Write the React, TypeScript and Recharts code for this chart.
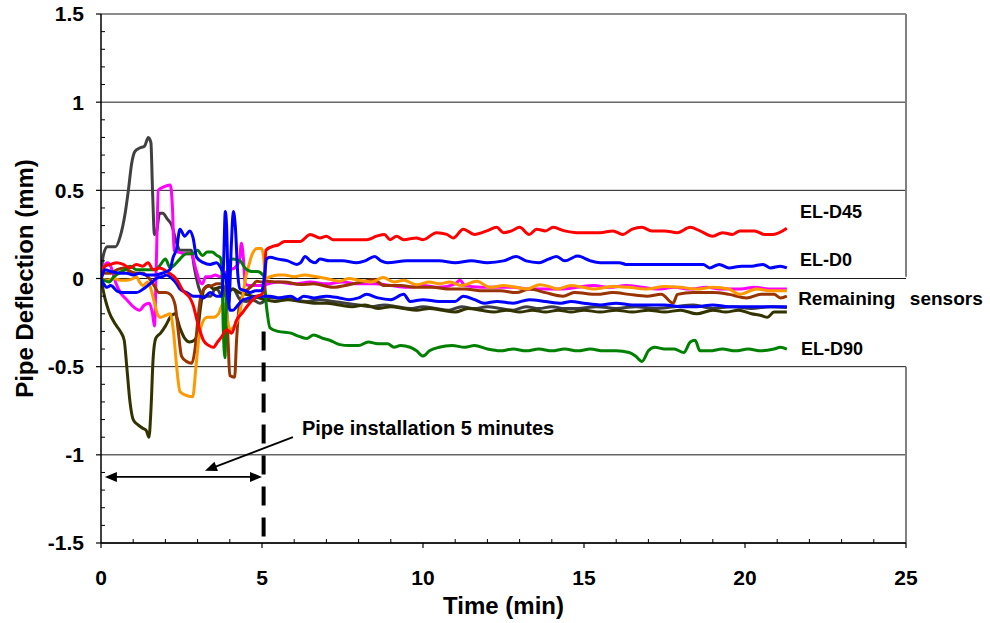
import React from 'react';
import { LineChart, Line, XAxis, YAxis, CartesianGrid, ReferenceLine, ReferenceDot } from 'recharts';

type Pt = [number, number];

// Tick values (every value gets a tick mark; the major ones also get a label)
const xTicks = [0, 1, 2, 3, 4, 5, 6, 7, 8, 9, 10, 11, 12, 13, 14, 15, 16, 17, 18, 19, 20, 21, 22, 23, 24, 25];
const xMajorStep = 5;
const yTicks = [-1.5, -1.4, -1.3, -1.2, -1.1, -1, -0.9, -0.8, -0.7, -0.6, -0.5, -0.4, -0.3, -0.2, -0.1, 0, 0.1, 0.2, 0.3, 0.4, 0.5, 0.6, 0.7, 0.8, 0.9, 1, 1.1, 1.2, 1.3, 1.4, 1.5];
const yMajorTicks = [-1.5, -1, -0.5, 0, 0.5, 1, 1.5];

// Series: [time (min), deflection (mm)]
const sensorGray: Pt[] = [
  [0, 0], [0.07, 0.13], [0.2, 0.18], [0.3, 0.18], [0.45, 0.18], [0.6, 0.24], [0.75, 0.37], [0.85, 0.5], [0.95, 0.65],
  [1.05, 0.72], [1.2, 0.74], [1.35, 0.75], [1.47, 0.8], [1.55, 0.77], [1.6, 0.5], [1.66, 0.25], [1.72, 0.26],
  [1.82, 0.37], [1.92, 0.37], [2.05, 0.34], [2.2, 0.3], [2.35, 0.2], [2.45, 0.16], [2.6, 0.16], [2.8, 0.16],
  [2.9, 0.06], [3.05, -0.06], [3.2, -0.1], [3.4, -0.1], [3.55, -0.06], [3.65, -0.07], [3.75, -0.1], [3.95, -0.08],
  [4.1, -0.06], [4.32, -0.12], [4.5, -0.13], [4.7, -0.12], [4.94, -0.14], [5.25, -0.11], [5.6, -0.11], [6.0, -0.12],
  [6.4, -0.13], [6.8, -0.12], [7.2, -0.13], [7.6, -0.14], [8.0, -0.15], [8.4, -0.16], [8.8, -0.15], [9.2, -0.16],
  [9.6, -0.17], [10.0, -0.16], [10.4, -0.17], [10.8, -0.18], [11.2, -0.16], [11.6, -0.17], [12.0, -0.16],
  [12.4, -0.17], [12.8, -0.18], [13.2, -0.16], [13.6, -0.17], [14.0, -0.16], [14.4, -0.17], [14.8, -0.17],
  [15.4, -0.16], [16.0, -0.17], [16.6, -0.16], [17.2, -0.17], [17.8, -0.16], [18.4, -0.15], [19.0, -0.17],
  [19.6, -0.16], [20.2, -0.17], [20.8, -0.16], [21.3, -0.165],
];

const sensorOlive: Pt[] = [
  [0, 0], [0.05, -0.05], [0.12, -0.11], [0.25, -0.19], [0.45, -0.26], [0.6, -0.3], [0.72, -0.35], [0.8, -0.5],
  [0.9, -0.7], [1.0, -0.8], [1.15, -0.83], [1.3, -0.85], [1.4, -0.86], [1.49, -0.9], [1.55, -0.75], [1.62, -0.45],
  [1.7, -0.34], [1.85, -0.31], [2.0, -0.27], [2.15, -0.22], [2.3, -0.2], [2.45, -0.28], [2.6, -0.34], [2.75, -0.36],
  [2.9, -0.35], [3.0, -0.3], [3.1, -0.15], [3.2, -0.06], [3.35, -0.04], [3.5, -0.06], [3.7, -0.05], [3.9, -0.07],
  [4.1, -0.06], [4.3, -0.08], [4.5, -0.09], [4.7, -0.1], [4.9, -0.11], [5.1, -0.12], [5.4, -0.13], [5.8, -0.12],
  [6.2, -0.13], [6.6, -0.14], [7.0, -0.14], [7.4, -0.15], [7.8, -0.16], [8.2, -0.15], [8.6, -0.17], [9.0, -0.16],
  [9.4, -0.17], [9.8, -0.18], [10.2, -0.17], [10.6, -0.18], [11.0, -0.19], [11.4, -0.17], [11.8, -0.18],
  [12.2, -0.19], [12.6, -0.18], [13.0, -0.19], [13.4, -0.18], [13.8, -0.19], [14.2, -0.18], [14.6, -0.19],
  [15.0, -0.18], [15.5, -0.19], [16.0, -0.18], [16.5, -0.19], [17.0, -0.18], [17.5, -0.19], [18.0, -0.18],
  [18.5, -0.2], [19.0, -0.18], [19.4, -0.19], [19.8, -0.18], [20.2, -0.2], [20.5, -0.21], [20.7, -0.22],
  [20.9, -0.19], [21.3, -0.19],
];

const sensorMagenta: Pt[] = [
  [0, 0], [0.08, 0.06], [0.2, 0.09], [0.3, 0.07], [0.45, -0.02], [0.6, -0.08], [0.8, -0.12], [1.0, -0.16],
  [1.2, -0.18], [1.35, -0.15], [1.5, -0.14], [1.6, -0.2], [1.66, -0.27], [1.72, 0.1], [1.78, 0.5], [1.95, 0.52],
  [2.15, 0.53], [2.22, 0.4], [2.27, 0.16], [2.4, 0.15], [2.6, 0.14], [2.8, 0.14], [2.95, 0.05], [3.05, -0.01],
  [3.15, -0.03], [3.25, 0.01], [3.4, 0.01], [3.55, 0.02], [3.7, 0.01], [3.85, 0.03], [4.0, 0.05], [4.15, 0.06],
  [4.3, 0.1], [4.36, 0.2], [4.42, 0.12], [4.48, -0.03], [4.6, -0.04], [4.8, -0.04], [5.0, -0.04], [5.2, -0.03],
  [5.5, -0.02], [6.0, -0.03], [6.5, -0.02], [7.0, -0.03], [7.5, -0.02], [8.0, -0.03], [8.5, -0.03], [9.0, -0.04],
  [9.5, -0.05], [10.0, -0.04], [10.5, -0.05], [11.0, -0.03], [11.15, -0.01], [11.3, -0.04], [11.8, -0.05],
  [12.3, -0.05], [12.8, -0.05], [13.3, -0.06], [13.8, -0.06], [14.3, -0.06], [14.8, -0.05], [15.3, -0.04],
  [15.8, -0.05], [16.3, -0.04], [16.8, -0.05], [17.3, -0.06], [17.8, -0.05], [18.3, -0.06], [18.8, -0.05],
  [19.3, -0.06], [19.8, -0.06], [20.3, -0.05], [20.8, -0.06], [21.3, -0.06],
];

const sensorBrown: Pt[] = [
  [0, 0], [0.1, 0.03], [0.3, 0.03], [0.5, 0.05], [0.7, 0.06], [0.9, 0.04], [1.1, 0.03], [1.3, 0.03], [1.5, 0.0],
  [1.65, -0.04], [1.8, -0.08], [2.0, -0.08], [2.15, -0.09], [2.3, -0.15], [2.4, -0.3], [2.5, -0.44], [2.65, -0.47],
  [2.82, -0.48], [2.92, -0.4], [3.0, -0.25], [3.1, -0.1], [3.25, -0.05], [3.45, -0.04], [3.6, -0.03], [3.75, -0.03],
  [3.88, -0.1], [3.95, -0.37], [4.0, -0.55], [4.15, -0.56], [4.21, -0.35], [4.3, -0.15], [4.45, -0.08],
  [4.57, -0.06], [4.73, -0.035], [4.84, -0.015], [5.0, -0.02], [5.14, -0.015], [5.4, -0.02], [5.7, -0.02],
  [6.18, -0.034], [6.6, -0.03], [7.2, -0.05], [7.73, -0.034], [8.1, -0.02], [8.45, -0.005], [8.8, -0.04],
  [9.3, -0.04], [9.8, -0.05], [10.3, -0.05], [10.84, -0.06], [11.3, -0.06], [11.87, -0.07], [12.4, -0.07],
  [12.9, -0.08], [13.3, -0.06], [13.8, -0.08], [14.35, -0.1], [14.7, -0.08], [15.4, -0.09], [15.9, -0.08],
  [16.4, -0.09], [16.95, -0.1], [17.4, -0.09], [17.77, -0.14], [17.9, -0.09], [18.4, -0.08], [19.0, -0.08],
  [19.5, -0.09], [20.05, -0.11], [20.5, -0.09], [20.9, -0.09], [21.1, -0.11], [21.3, -0.1],
];

const sensorOrange: Pt[] = [
  [0, 0], [0.2, -0.01], [0.4, 0.0], [0.6, -0.01], [0.8, -0.01], [1.0, 0.0], [1.1, 0.01], [1.2, -0.02],
  [1.3, -0.04], [1.45, -0.02], [1.55, -0.06], [1.65, -0.13], [1.75, -0.2], [1.85, -0.22], [2.0, -0.21],
  [2.15, -0.2], [2.25, -0.3], [2.35, -0.5], [2.45, -0.64], [2.6, -0.66], [2.85, -0.67], [2.95, -0.5],
  [3.05, -0.32], [3.15, -0.25], [3.3, -0.22], [3.5, -0.22], [3.65, -0.2], [3.8, -0.14], [3.9, -0.2], [4.0, -0.29],
  [4.15, -0.27], [4.3, -0.2], [4.4, -0.1], [4.5, 0.01], [4.6, 0.08], [4.7, 0.14], [4.85, 0.17], [4.99, 0.17],
  [5.05, 0.12], [5.12, 0.0], [5.25, 0.01], [5.5, 0.02], [5.7, 0.02], [6.0, 0.01], [6.3, 0.02], [6.7, 0.01],
  [7.0, 0.0], [7.4, -0.015], [7.7, 0.0], [8.0, -0.01], [8.4, -0.02], [8.76, 0.005], [9.1, -0.02], [9.4, -0.01],
  [9.8, -0.035], [10.2, -0.02], [10.5, -0.03], [10.84, -0.02], [11.2, -0.04], [11.67, -0.015], [12.08, -0.05],
  [12.5, -0.04], [12.9, -0.05], [13.22, -0.06], [13.63, -0.035], [14.0, -0.05], [14.15, -0.06], [14.6, -0.04],
  [14.97, -0.05], [15.3, -0.06], [15.9, -0.045], [16.4, -0.05], [16.95, -0.06], [17.5, -0.045], [18.0, -0.05],
  [18.5, -0.06], [19.0, -0.05], [19.5, -0.06], [19.84, -0.09], [20.36, -0.06], [20.8, -0.07], [21.3, -0.07],
];

const sensorGreenD90: Pt[] = [
  [0, 0], [0.1, -0.01], [0.25, -0.02], [0.4, 0.01], [0.55, 0.03], [0.75, 0.05], [0.9, 0.07], [1.1, 0.05],
  [1.3, 0.05], [1.5, 0.05], [1.7, 0.05], [1.85, 0.08], [2.0, 0.11], [2.15, 0.06], [2.3, 0.08], [2.45, 0.11],
  [2.65, 0.14], [2.85, 0.14], [3.0, 0.16], [3.15, 0.13], [3.3, 0.15], [3.45, 0.15], [3.6, 0.13], [3.7, 0.12],
  [3.75, 0.07], [3.8, -0.3], [3.85, -0.45], [3.9, -0.05], [4.0, 0.1], [4.1, 0.11], [4.32, 0.1], [4.47, 0.06],
  [4.68, 0.04], [4.85, 0.04], [5.05, 0.015], [5.14, -0.16], [5.25, -0.28], [5.5, -0.3], [5.9, -0.31],
  [6.18, -0.33], [6.4, -0.34], [6.6, -0.32], [6.9, -0.34], [7.1, -0.35], [7.42, -0.375], [7.7, -0.38],
  [8.0, -0.38], [8.3, -0.36], [8.6, -0.37], [8.9, -0.37], [9.1, -0.39], [9.3, -0.38], [9.6, -0.39], [9.8, -0.41],
  [10.0, -0.44], [10.2, -0.41], [10.5, -0.39], [10.9, -0.38], [11.3, -0.39], [11.6, -0.38], [12.0, -0.4],
  [12.4, -0.41], [12.8, -0.4], [13.2, -0.41], [13.6, -0.4], [14.0, -0.41], [14.4, -0.4], [14.8, -0.41],
  [15.2, -0.4], [15.6, -0.41], [16.0, -0.41], [16.4, -0.42], [16.6, -0.44], [16.8, -0.47], [17.0, -0.41],
  [17.2, -0.39], [17.5, -0.4], [17.8, -0.4], [18.1, -0.42], [18.3, -0.36], [18.45, -0.35], [18.6, -0.41],
  [18.9, -0.41], [19.3, -0.4], [19.7, -0.41], [20.1, -0.4], [20.5, -0.41], [20.9, -0.4], [21.1, -0.39],
  [21.3, -0.4],
];

const sensorBlueLow: Pt[] = [
  [0, 0], [0.08, -0.03], [0.18, -0.05], [0.3, -0.04], [0.49, -0.07], [0.69, -0.08], [0.9, -0.08], [1.1, -0.08],
  [1.31, -0.06], [1.52, -0.03], [1.72, 0.0], [1.9, 0.01], [2.04, 0.02], [2.2, 0.0], [2.35, -0.03], [2.45, -0.06],
  [2.66, -0.08], [2.86, -0.1], [3.07, -0.1], [3.18, -0.11], [3.39, -0.08], [3.59, -0.1], [3.75, -0.1],
  [3.81, 0.1], [3.86, 0.38], [3.9, 0.3], [3.95, -0.05], [4.0, -0.18], [4.1, -0.18], [4.21, -0.16], [4.42, -0.12],
  [4.63, -0.11], [4.84, -0.1], [5.04, -0.1], [5.25, -0.1], [5.5, -0.11], [5.9, -0.1], [6.1, -0.12], [6.3, -0.1],
  [6.6, -0.11], [7.0, -0.1], [7.4, -0.11], [7.7, -0.12], [8.0, -0.11], [8.25, -0.09], [8.6, -0.11], [9.0, -0.12],
  [9.4, -0.09], [9.6, -0.13], [10.0, -0.12], [10.5, -0.13], [11.0, -0.13], [11.25, -0.1], [11.6, -0.12],
  [11.9, -0.14], [12.3, -0.13], [12.8, -0.14], [13.3, -0.12], [13.8, -0.13], [14.3, -0.14], [14.6, -0.13],
  [15.0, -0.14], [15.5, -0.15], [16.0, -0.14], [16.5, -0.15], [17.0, -0.15], [17.5, -0.15], [18.0, -0.16],
  [18.5, -0.16], [19.0, -0.15], [19.5, -0.16], [20.0, -0.16], [20.5, -0.16], [21.0, -0.16], [21.3, -0.16],
];

const sensorRedD45: Pt[] = [
  [0, 0], [0.12, 0.07], [0.3, 0.08], [0.49, 0.09], [0.69, 0.08], [0.9, 0.06], [1.1, 0.08], [1.3, 0.07],
  [1.46, 0.09], [1.62, 0.05], [1.83, 0.06], [2.04, 0.04], [2.35, -0.005], [2.55, -0.07], [2.76, -0.11],
  [2.86, -0.15], [3.0, -0.25], [3.18, -0.35], [3.35, -0.38], [3.49, -0.39], [3.62, -0.36], [3.75, -0.33],
  [3.9, -0.29], [4.06, -0.31], [4.2, -0.24], [4.41, -0.19], [4.57, -0.15], [4.72, -0.12], [4.85, -0.1],
  [4.99, -0.09], [5.07, -0.05], [5.12, 0.16], [5.3, 0.18], [5.5, 0.19], [5.7, 0.21], [5.9, 0.21], [6.18, 0.21],
  [6.5, 0.25], [6.8, 0.23], [7.0, 0.24], [7.2, 0.22], [7.6, 0.22], [8.0, 0.22], [8.25, 0.22], [8.56, 0.24],
  [8.8, 0.25], [8.98, 0.22], [9.18, 0.24], [9.4, 0.22], [9.8, 0.23], [10.0, 0.22], [10.42, 0.26], [10.74, 0.25],
  [10.94, 0.23], [11.25, 0.28], [11.6, 0.25], [11.98, 0.27], [12.29, 0.29], [12.5, 0.26], [12.75, 0.27],
  [13.0, 0.29], [13.3, 0.25], [13.53, 0.28], [13.8, 0.27], [14.04, 0.29], [14.4, 0.27], [14.77, 0.26],
  [15.2, 0.26], [15.5, 0.26], [15.9, 0.27], [16.2, 0.25], [16.5, 0.28], [16.8, 0.29], [17.1, 0.27], [17.5, 0.27],
  [17.9, 0.26], [18.3, 0.29], [18.6, 0.27], [19.0, 0.24], [19.3, 0.26], [19.6, 0.25], [19.84, 0.27], [20.3, 0.27],
  [20.6, 0.25], [20.87, 0.25], [21.3, 0.285],
];

const sensorBlueD0: Pt[] = [
  [0, 0], [0.06, 0.03], [0.12, 0.05], [0.3, 0.04], [0.59, 0.03], [0.8, 0.03], [1.0, 0.02], [1.2, 0.03],
  [1.4, 0.02], [1.68, 0.02], [1.9, 0.03], [2.14, 0.05], [2.24, 0.12], [2.35, 0.17], [2.45, 0.28], [2.6, 0.24],
  [2.76, 0.27], [2.86, 0.23], [2.97, 0.12], [3.18, 0.09], [3.39, 0.08], [3.59, 0.09], [3.75, 0.05], [3.88, 0.0],
  [3.97, -0.14], [4.05, 0.2], [4.11, 0.38], [4.17, 0.3], [4.25, 0.02], [4.32, -0.06], [4.5, -0.07], [4.63, -0.08],
  [4.8, -0.07], [4.99, -0.07], [5.07, 0.0], [5.14, 0.11], [5.25, 0.12], [5.5, 0.11], [5.8, 0.1], [6.08, 0.08],
  [6.2, 0.09], [6.34, 0.125], [6.5, 0.1], [6.65, 0.09], [6.8, 0.11], [7.1, 0.1], [7.5, 0.1], [7.94, 0.09],
  [8.2, 0.1], [8.5, 0.125], [8.7, 0.1], [8.9, 0.09], [9.5, 0.1], [10.0, 0.1], [10.5, 0.1], [11.0, 0.09],
  [11.5, 0.1], [12.0, 0.09], [12.5, 0.1], [12.9, 0.125], [13.2, 0.1], [13.6, 0.09], [13.9, 0.11], [14.15, 0.125],
  [14.4, 0.1], [14.8, 0.127], [15.2, 0.1], [15.5, 0.09], [16.1, 0.09], [16.3, 0.08], [17.0, 0.08], [17.5, 0.08],
  [18.0, 0.08], [18.7, 0.08], [18.9, 0.06], [19.2, 0.08], [19.5, 0.06], [19.9, 0.07], [20.2, 0.07],
  [20.56, 0.08], [20.8, 0.06], [21.1, 0.07], [21.3, 0.06],
];

// Annotation values
const installTime = 5.05;
const installLineTop = -0.3;
const spanArrowY = -1.125;
const spanArrowStart = 0.12;
const spanArrowEnd = 5.0;
const noteArrowFrom: Pt = [5.96, -0.9];
const noteArrowTo: Pt = [3.23, -1.09];
const noteText = 'Pipe installation 5 minutes';
const notePos: Pt = [6.24, -0.847];
const seriesLabels: { text: string; pos: Pt; size: number }[] = [
  { text: 'EL-D45', pos: [21.71, 0.38], size: 18 },
  { text: 'EL-D0', pos: [21.71, 0.108], size: 18 },
  { text: 'Remaining', pos: [21.65, -0.114], size: 19 },
  { text: 'sensors', pos: [25.12, -0.114], size: 19 },
  { text: 'EL-D90', pos: [21.74, -0.398], size: 18 },
];

const FONT = "'Liberation Sans', Arial, Helvetica, sans-serif";

const seriesList = [
  { key: 'gray', pts: sensorGray, color: '#404040' },
  { key: 'olive', pts: sensorOlive, color: '#333300' },
  { key: 'magenta', pts: sensorMagenta, color: '#FF00FF' },
  { key: 'brown', pts: sensorBrown, color: '#993300' },
  { key: 'orange', pts: sensorOrange, color: '#FF9900' },
  { key: 'green', pts: sensorGreenD90, color: '#008000' },
  { key: 'blueLow', pts: sensorBlueLow, color: '#0000FF' },
  { key: 'red', pts: sensorRedD45, color: '#FF0000' },
  { key: 'blueD0', pts: sensorBlueD0, color: '#0000FF' },
];

const toRows = (pts: Pt[]) => pts.map(([t, v]) => ({ t, v }));

function head(xt: number, yt: number, xf: number, yf: number, len: number, half: number) {
  const dx = xt - xf;
  const dy = yt - yf;
  const d = Math.sqrt(dx * dx + dy * dy) || 1;
  const ux = dx / d;
  const uy = dy / d;
  const bx = xt - ux * len;
  const by = yt - uy * len;
  const px = -uy * half;
  const py = ux * half;
  return `${xt},${yt} ${bx + px},${by + py} ${bx - px},${by - py}`;
}

const makeArrow = (both: boolean) => (p: any) => {
  const { x1, y1, x2, y2 } = p;
  if ([x1, y1, x2, y2].some((v) => typeof v !== 'number' || isNaN(v))) return <g />;
  const len = 12;
  const dx = x2 - x1;
  const dy = y2 - y1;
  const d = Math.sqrt(dx * dx + dy * dy) || 1;
  const sx = both ? x1 + (dx / d) * (len - 2) : x1;
  const sy = both ? y1 + (dy / d) * (len - 2) : y1;
  const ex = x2 - (dx / d) * (len - 2);
  const ey = y2 - (dy / d) * (len - 2);
  return (
    <g>
      <line x1={sx} y1={sy} x2={ex} y2={ey} stroke="#000" strokeWidth={1.8} />
      <polygon points={head(x2, y2, x1, y1, len, 5)} fill="#000" />
      {both && <polygon points={head(x1, y1, x2, y2, len, 5)} fill="#000" />}
    </g>
  );
};

const isMajorY = (v: number) => yMajorTicks.some((m) => Math.abs(m - v) < 1e-6);
const isMajorX = (v: number) => Math.abs(v / xMajorStep - Math.round(v / xMajorStep)) < 1e-6;

const XTick = (props: any) => {
  const { x, y, payload } = props;
  const v = payload?.value;
  const major = isMajorX(v);
  return (
    <g>
      {major ? (
        <line x1={x} x2={x} y1={y} y2={y + 5} stroke="#000" strokeWidth={1.2} />
      ) : (
        <line x1={x} x2={x} y1={y} y2={y - 4} stroke="#000" strokeWidth={1} />
      )}
      {major && (
        <text x={x} y={y + 27} dy="0.71em" textAnchor="middle" fill="#000" fontSize={21} fontWeight="bold" fontFamily={FONT}>
          {String(v)}
        </text>
      )}
    </g>
  );
};

const YTick = (props: any) => {
  const { x, y, payload } = props;
  const v = payload?.value;
  const major = isMajorY(v);
  return (
    <g>
      {major ? (
        <line x1={x - 5} x2={x} y1={y} y2={y} stroke="#000" strokeWidth={1.2} />
      ) : (
        <line x1={x} x2={x + 4} y1={y} y2={y} stroke="#000" strokeWidth={1} />
      )}
      {major && (
        <text x={x - 17} y={y} dy="0.355em" textAnchor="end" fill="#000" fontSize={21} fontWeight="bold" fontFamily={FONT}>
          {String(Math.round(v * 10) / 10)}
        </text>
      )}
    </g>
  );
};

const labelStyle = { fill: '#000', fontWeight: 'bold' as const, fontFamily: FONT };

export default function App() {
  return (
    <div style={{ position: 'absolute', left: 0, top: 0, width: 990, height: 623, background: '#fff' }}>
      <LineChart width={990} height={623} margin={{ top: 14, right: 84, bottom: 5, left: 0 }}>
        <CartesianGrid vertical={false} stroke="#1a1a1a" strokeWidth={1} horizontalValues={yMajorTicks} />
        <XAxis
          dataKey="t"
          type="number"
          domain={[0, 25]}
          ticks={xTicks}
          interval={0}
          allowDataOverflow
          height={75}
          tickSize={0}
          tickMargin={0}
          axisLine={{ stroke: '#000', strokeWidth: 1.5 }}
          tickLine={false}
          tick={XTick}
          label={{ value: 'Time (min)', position: 'insideBottom', offset: 4, fill: '#000', fontSize: 24, fontWeight: 'bold', fontFamily: FONT }}
        />
        <YAxis
          type="number"
          domain={[-1.5, 1.5]}
          ticks={yTicks}
          interval={0}
          allowDataOverflow
          width={101}
          tickSize={0}
          tickMargin={0}
          axisLine={{ stroke: '#000', strokeWidth: 1.5 }}
          tickLine={false}
          tick={YTick}
          label={{ value: 'Pipe Deflection (mm)', angle: -90, position: 'insideLeft', offset: 24, style: { textAnchor: 'middle' }, fill: '#000', fontSize: 24, fontWeight: 'bold', fontFamily: FONT }}
        />
        <ReferenceLine segment={[{ x: 25, y: 1.5 }, { x: 25, y: 0.01 }]} stroke="#808080" strokeWidth={2} ifOverflow="visible" />
        <ReferenceLine segment={[{ x: 25, y: -0.5 }, { x: 25, y: -1.5 }]} stroke="#808080" strokeWidth={2} ifOverflow="visible" />
        {seriesList.map((s) => (
          <Line
            key={s.key}
            data={toRows(s.pts)}
            dataKey="v"
            type="monotone"
            stroke={s.color}
            strokeWidth={3}
            strokeLinejoin="round"
            dot={false}
            activeDot={false}
            isAnimationActive={false}
          />
        ))}
        <ReferenceLine
          segment={[{ x: installTime, y: installLineTop }, { x: installTime, y: -1.5 }]}
          stroke="#000"
          strokeWidth={4}
          strokeDasharray="19 12"
          ifOverflow="visible"
        />
        <ReferenceLine
          segment={[{ x: spanArrowStart, y: spanArrowY }, { x: spanArrowEnd, y: spanArrowY }]}
          shape={makeArrow(true)}
          ifOverflow="visible"
        />
        <ReferenceLine
          segment={[{ x: noteArrowFrom[0], y: noteArrowFrom[1] }, { x: noteArrowTo[0], y: noteArrowTo[1] }]}
          shape={makeArrow(false)}
          ifOverflow="visible"
        />
        <ReferenceDot
          x={notePos[0]}
          y={notePos[1]}
          r={0}
          stroke="none"
          fill="none"
          ifOverflow="visible"
          label={{ value: noteText, position: 'right', offset: 0, ...labelStyle, fontSize: 20 }}
        />
        {seriesLabels.map((l) => (
          <ReferenceDot
            key={l.text}
            x={l.pos[0]}
            y={l.pos[1]}
            r={0}
            stroke="none"
            fill="none"
            ifOverflow="visible"
            label={{ value: l.text, position: 'right', offset: 0, ...labelStyle, fontSize: l.size }}
          />
        ))}
      </LineChart>
    </div>
  );
}
